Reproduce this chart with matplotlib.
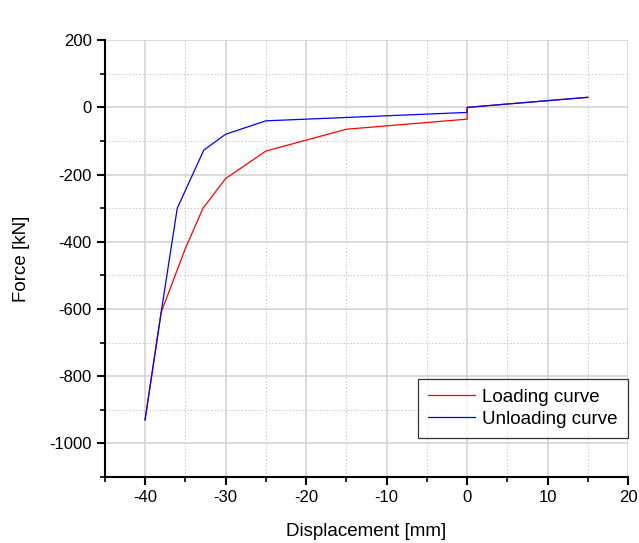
import numpy as np
import matplotlib
matplotlib.use('Agg')
import matplotlib.pyplot as plt
from matplotlib.ticker import MultipleLocator

plt.rcParams['font.family'] = ['Liberation Sans', 'DejaVu Sans']
plt.rcParams['axes.unicode_minus'] = False

# Loading / unloading curves
load_x = [-40, -38, -35, -32.8, -30, -25, -15, 0, 0, 15]
load_y = [-930, -610, -420, -300, -212, -130, -65, -35, 0, 30]

unload_x = [-40, -38, -36, -32.7, -30, -25, 0, 0, 15]
unload_y = [-930, -610, -300, -127, -80, -40, -15, 0, 30]

fig = plt.figure(figsize=(6.39, 5.43), dpi=100)
ax = fig.add_axes([0.164, 0.1215, 0.819, 0.8045])

ax.plot(load_x, load_y, color='red', lw=0.9, label='Loading curve')
ax.plot(unload_x, unload_y, color='blue', lw=0.9, label='Unloading curve')

ax.set_xlim(-45, 20)
ax.set_ylim(-1100, 200)
ax.xaxis.set_major_locator(MultipleLocator(10))
ax.xaxis.set_minor_locator(MultipleLocator(5))
ax.yaxis.set_major_locator(MultipleLocator(200))
ax.yaxis.set_minor_locator(MultipleLocator(100))

ax.grid(which='major', color='#d4d4d4', lw=1.2, ls='-')
ax.grid(which='minor', color='#c8c8c8', lw=0.7, ls=(0, (1.5, 2)))
ax.set_axisbelow(True)

for s in ['top', 'right']:
    ax.spines[s].set_visible(False)
for s in ['left', 'bottom']:
    ax.spines[s].set_linewidth(1.5)

ax.tick_params(which='major', direction='out', length=6, width=1.5, labelsize=12)
ax.tick_params(which='minor', direction='out', length=3.5, width=1.2)

ax.set_xlabel('Displacement [mm]', fontsize=13.5, labelpad=13)
ax.set_ylabel('Force [kN]', fontsize=13.5, labelpad=14)

leg = ax.legend(loc='lower right', bbox_to_anchor=(1.0, 0.089), fontsize=13.5,
                frameon=True, fancybox=False, edgecolor='black',
                handlelength=2.5, borderpad=0.55, labelspacing=0.25,
                handletextpad=0.4, borderaxespad=0)
leg.get_frame().set_linewidth(0.9)

fig.savefig('out.png', dpi=100)
